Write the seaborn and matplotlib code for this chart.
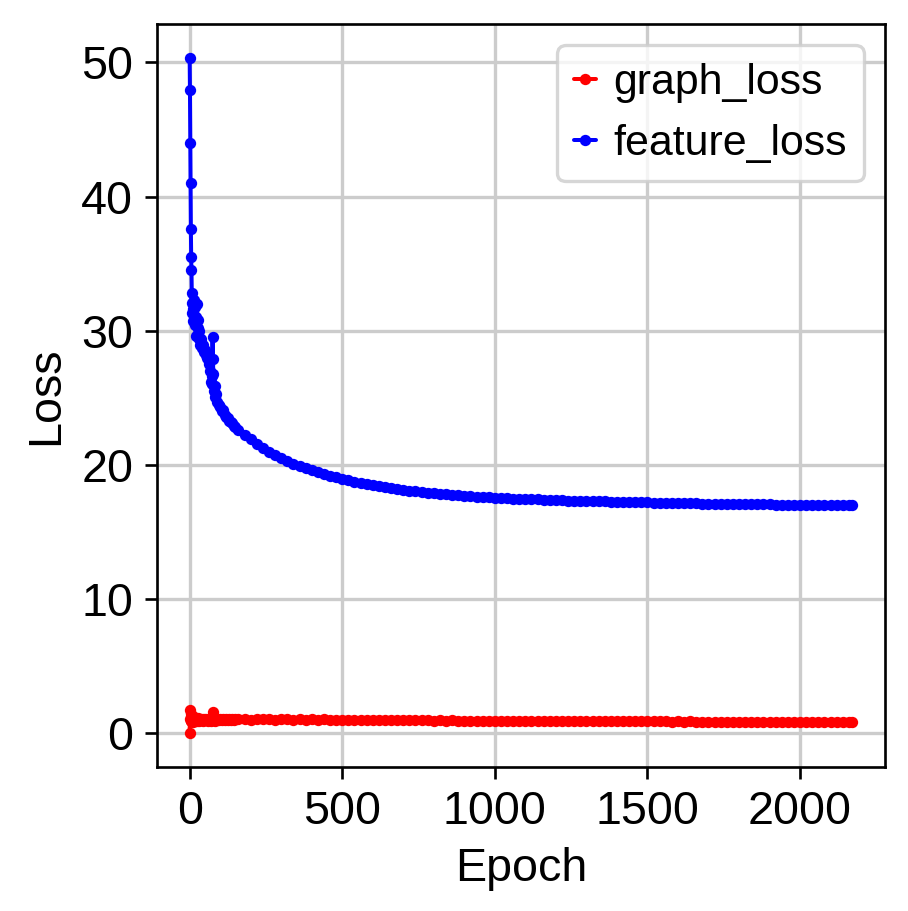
import matplotlib
matplotlib.use("Agg")
import matplotlib.pyplot as plt
import pandas as pd
import seaborn as sns

# epochs: dense at the start, every 20 epochs afterwards
early_epochs = [0, 1, 2, 3, 4, 5, 6, 7, 8, 9,
                10, 12, 14, 16, 18, 20, 22, 24, 26, 28,
                30, 32, 35, 38, 41, 44, 47, 50, 53, 56,
                59, 62, 65, 68, 70, 72, 74, 75, 76, 78,
                80, 82, 84, 87, 90, 95, 100, 105, 110, 115,
                120, 125, 130, 135, 140, 145, 150]
late_epochs = list(range(160, 2161, 20)) + [2170]

feature_early = [50.34, 47.9, 44.0, 41.0, 37.55, 35.5, 34.5, 32.8, 32.1, 31.3,
                 30.7, 31.6, 32.3, 30.4, 31.8, 29.6, 31.0, 32.0, 30.2, 30.8,
                 29.4, 30.0, 28.9, 29.4, 28.7, 28.9, 28.4, 28.6, 28.2, 28.0,
                 28.3, 27.5, 27.7, 27.0, 26.2, 26.6, 26.0, 29.5, 27.9, 26.8,
                 25.5, 25.9, 25.1, 25.3, 24.7, 24.5, 24.3, 24.0, 24.1, 23.7,
                 23.6, 23.5, 23.3, 23.2, 23.1, 22.9, 22.8]
feature_late = [22.60, 22.25, 21.90, 21.58, 21.28, 21.00, 20.75, 20.52, 20.30, 20.10,
                19.92, 19.76, 19.60, 19.46, 19.32, 19.19, 19.07, 18.95, 18.85, 18.75,
                18.66, 18.58, 18.50, 18.42, 18.34, 18.27, 18.21, 18.15, 18.09, 18.03,
                17.98, 17.94, 17.90, 17.86, 17.82, 17.78, 17.74, 17.71, 17.68, 17.65,
                17.62, 17.59, 17.56, 17.54, 17.52, 17.50, 17.48, 17.46, 17.44, 17.43,
                17.41, 17.40, 17.38, 17.37, 17.35, 17.34, 17.32, 17.31, 17.30, 17.29,
                17.28, 17.27, 17.26, 17.25, 17.24, 17.23, 17.22, 17.21, 17.20, 17.19,
                17.18, 17.17, 17.16, 17.15, 17.14, 17.13, 17.12, 17.12, 17.11, 17.10,
                17.10, 17.09, 17.08, 17.08, 17.07, 17.07, 17.06, 17.06, 17.05, 17.05,
                17.04, 17.04, 17.03, 17.03, 17.03, 17.02, 17.02, 17.02, 17.02, 17.01,
                17.01, 17.01]

graph_early = [0.035, 1.78, 1.05, 1.45, 0.95, 1.25, 0.90, 1.15, 1.30, 0.95,
               1.10, 0.88, 1.20, 1.02, 0.92, 1.15, 1.00, 0.90, 1.12, 0.98,
               1.08, 0.94, 1.10, 1.00, 1.05, 0.92, 1.08, 0.98, 1.10, 1.00,
               0.95, 1.06, 0.98, 1.04, 0.95, 1.08, 1.00, 1.62, 1.10, 0.98,
               1.05, 0.96, 1.08, 1.00, 1.04, 0.98, 1.10, 1.02, 1.06, 1.00,
               1.08, 1.03, 1.05, 1.00, 1.06, 1.02, 1.05]
graph_late = [1.04, 1.07, 1.03, 1.06, 1.04, 1.05, 1.03, 1.06, 1.04, 1.02,
              1.05, 1.03, 1.04, 1.02, 1.04, 1.01, 1.03, 1.02, 1.00, 1.02,
              1.00, 1.01, 0.99, 1.00, 0.98, 1.00, 0.98, 0.99, 0.97, 0.98,
              0.97, 0.98, 0.96, 0.97, 0.96, 0.97, 0.95, 0.96, 0.95, 0.96,
              0.94, 0.95, 0.94, 0.95, 0.94, 0.93, 0.94, 0.93, 0.94, 0.93,
              0.92, 0.93, 0.92, 0.93, 0.92, 0.91, 0.92, 0.91, 0.92, 0.91,
              0.90, 0.91, 0.90, 0.91, 0.90, 0.90, 0.89, 0.90, 0.89, 0.90,
              0.89, 0.88, 0.89, 0.88, 0.89, 0.88, 0.88, 0.87, 0.88, 0.87,
              0.88, 0.87, 0.86, 0.87, 0.86, 0.87, 0.86, 0.85, 0.87, 0.85,
              0.86, 0.85, 0.86, 0.85, 0.84, 0.86, 0.84, 0.85, 0.84, 0.85,
              0.84, 0.84]

epochs = early_epochs + late_epochs
loss_df = pd.DataFrame({
    "Epoch": epochs,
    "graph_loss": graph_early + graph_late,
    "feature_loss": feature_early + feature_late,
})

sns.set_style("ticks")
plt.rcParams["font.family"] = ["Liberation Sans", "DejaVu Sans"]
plt.rcParams.update({
    "font.size": 14,
    "axes.labelsize": 14,
    "xtick.labelsize": 14,
    "ytick.labelsize": 14,
    "legend.fontsize": 12.88,
    "legend.handlelength": 0.5,
    "legend.handletextpad": 0.4,
    "axes.linewidth": 0.8,
    "axes.edgecolor": "black",
    "axes.labelcolor": "black",
    "text.color": "black",
    "xtick.color": "black",
    "ytick.color": "black",
})

fig = plt.figure(figsize=(908 / 240, 911 / 240), dpi=240)
ax = fig.add_axes([0.1724, 0.1584, 0.8023, 0.8153])

for col, colour in [("graph_loss", "red"), ("feature_loss", "blue")]:
    sns.lineplot(data=loss_df, x="Epoch", y=col, ax=ax, color=colour, label=col,
                 marker="o", markersize=3.4, markeredgewidth=0, linewidth=1.2)

ax.grid(True, color="0.8", linewidth=1.0)
ax.set_axisbelow(True)
ax.set_xlabel("Epoch")
ax.set_ylabel("Loss")
ax.set_xticks([0, 500, 1000, 1500, 2000])
ax.set_yticks([0, 10, 20, 30, 40, 50])
ax.legend(loc="upper right")

fig.savefig("out.png", dpi=240)
